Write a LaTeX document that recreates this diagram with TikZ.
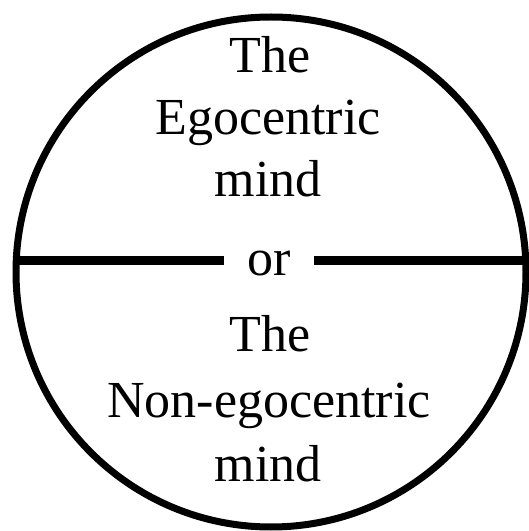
\documentclass[tikz,border=0pt]{standalone}
\usepackage{fontspec}
\setmainfont{Liberation Serif}
\begin{document}
\begin{tikzpicture}[x=1pt,y=1pt,font=\fontsize{52}{62}\selectfont,
	words/.style={anchor=base,inner sep=0pt},
	divider/.style={line width=9pt}]
	\useasboundingbox (0,0) rectangle (529,531);
	\node[draw,circle,line width=7pt,minimum size=510pt,inner sep=0pt] (rim) at (271,259) {};
	\node[words] (theA) at (270,458) {The};
	\node[words] (ego) at (268,396) {Egocentric};
	\node[words] (mindA) at (268,334) {mind};
	\node[words,inner xsep=23pt] (or) at (269,255) {or};
	\node[words] (theB) at (270,179) {The};
	\node[words] (nonego) at (269,113) {Non-egocentric};
	\node[words] (mindB) at (268,49) {mind};
	\coordinate (mid) at (0,270);
	\draw[divider] (rim.west |- mid) -- (or.west |- mid);
	\draw[divider] (or.east |- mid) -- (rim.east |- mid);
\end{tikzpicture}
\end{document}
